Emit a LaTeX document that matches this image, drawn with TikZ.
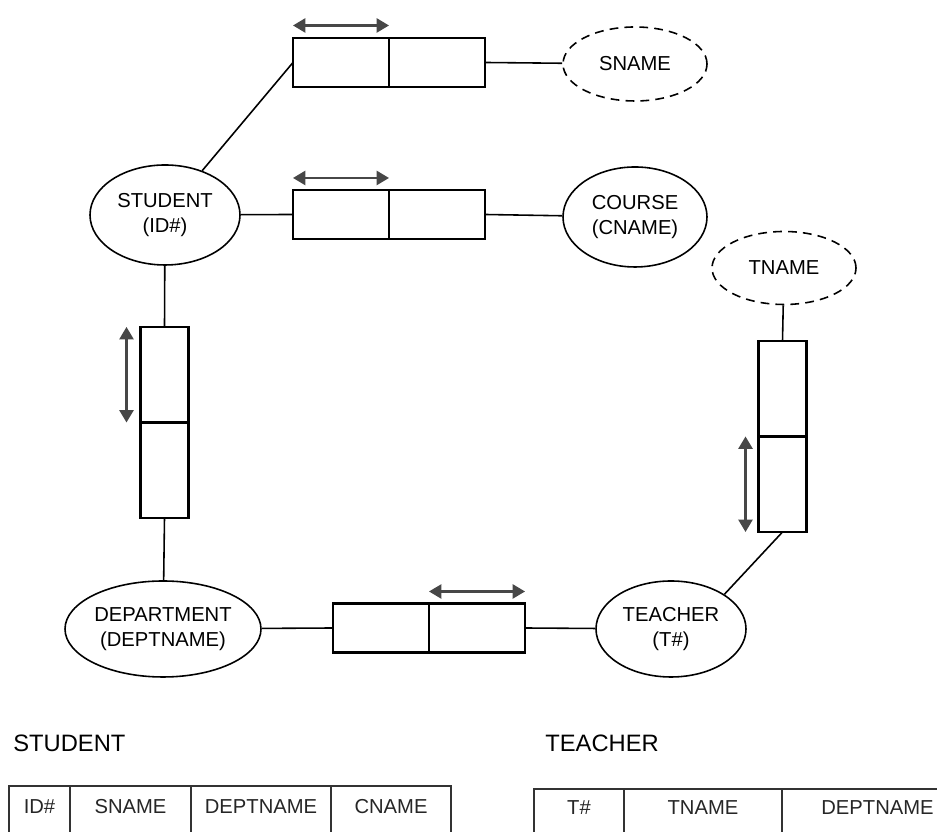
\documentclass[tikz,border=0pt]{standalone}
\usepackage{fontspec}
\setmainfont{Liberation Sans}
\usetikzlibrary{arrows.meta,shapes.geometric}

\begin{document}
\begin{tikzpicture}[
	entidad/.style={ellipse, draw, line width=.9pt, inner sep=0pt, align=center, font=\fontsize{11.5}{14.5}\selectfont},
	atributo/.style={entidad, dash pattern=on 5pt off 3.5pt},
	celda/.style={rectangle, draw, line width=1.3pt, inner sep=0pt, outer sep=0pt, minimum width=1.92cm, minimum height=.98cm},
	celdav/.style={celda, minimum width=.96cm, minimum height=1.91cm},
	flecha/.style={{Triangle[length=7pt,width=8pt]}-{Triangle[length=7pt,width=8pt]}, line width=1.2pt, black!72},
	enlace/.style={line width=.9pt},
	tabla/.style={line width=.6pt, black!80},
	titulo/.style={anchor=base west, inner sep=0pt, font=\fontsize{13.5}{16}\selectfont},
	campo/.style={anchor=base, inner sep=0pt, font=\fontsize{11.5}{14}\selectfont, black!85}
]
\useasboundingbox (0,0) rectangle (18.74,16.64);

%---------------------------------------------------------------------------------------- ENTIDADES
\node[entidad, minimum width=3cm, minimum height=2cm] (student) at (3.30,12.34) {STUDENT\\(ID\#)};
\node[entidad, minimum width=2.88cm, minimum height=2cm] (course) at (12.70,12.30) {COURSE\\(CNAME)};
\node[entidad, minimum width=3.92cm, minimum height=1.92cm] (department) at (3.26,4.06) {DEPARTMENT\\(DEPTNAME)};
\node[entidad, minimum width=3cm, minimum height=1.92cm] (teacher) at (13.42,4.06) {TEACHER\\(T\#)};

\node[atributo, minimum width=2.88cm, minimum height=1.48cm] (sname) at (12.70,15.36) {SNAME};   %--- punteados
\node[atributo, minimum width=2.88cm, minimum height=1.46cm] (tname) at (15.68,11.28) {TNAME};

%---------------------------------------------------------------------------------------- CAJAS
\node[celda] (sn1) at (6.82,15.39) {};
\node[celda, anchor=west] (sn2) at (sn1.east) {};
\node[celda] (cr1) at (6.82,12.35) {};
\node[celda, anchor=west] (cr2) at (cr1.east) {};
\node[celda] (dt1) at (7.62,4.08) {};
\node[celda, anchor=west] (dt2) at (dt1.east) {};

\node[celdav] (sd1) at (3.29,9.145) {};			% ------------------------------------- verticales
\node[celdav, anchor=north] (sd2) at (sd1.south) {};
\node[celdav] (tn1) at (15.65,8.865) {};
\node[celdav, anchor=north] (tn2) at (tn1.south) {};

%---------------------------------------------------------------------------------------- ENLACES
\draw[enlace] (student) -- (sn1.west);
\draw[enlace] (sn2.east) -- (sname);
\draw[enlace] (student) -- (cr1.west);
\draw[enlace] (cr2.east) -- (course);
\draw[enlace] (student) -- (sd1.north);
\draw[enlace] (sd2.south) -- (department);
\draw[enlace] (department) -- (dt1.west);
\draw[enlace] (dt2.east) -- (teacher);
\draw[enlace] (teacher.33) -- (tn2.south);
\draw[enlace] (tname) -- (tn1.north);

%---------------------------------------------------------------------------------------- FLECHAS
\draw[flecha] ([yshift=.25cm]sn1.north west) -- ([yshift=.25cm]sn1.north east);
\draw[flecha] ([yshift=.24cm]cr1.north west) -- ([yshift=.24cm]cr1.north east);
\draw[flecha] ([yshift=.24cm]dt2.north west) -- ([yshift=.24cm]dt2.north east);
\draw[flecha] ([xshift=-.28cm]sd1.north west) -- ([xshift=-.28cm]sd1.south west);
\draw[flecha] ([xshift=-.26cm]tn2.north west) -- ([xshift=-.26cm]tn2.south west);

%---------------------------------------------------------------------------------------- TABLAS
\node[titulo] (tstudent) at (0.26,1.60) {STUDENT};
\draw[tabla] (0.18,0) -- (0.18,0.92) -- (9.02,0.92) -- (9.02,0)
			 (1.40,0) -- (1.40,0.92)  (3.82,0) -- (3.82,0.92)  (6.62,0) -- (6.62,0.92);
\node[campo] (cid) at (0.79,0.36) {ID\#};
\node[campo] (csname) at (2.61,0.36) {SNAME};
\node[campo] (cdept) at (5.22,0.36) {DEPTNAME};
\node[campo] (ccname) at (7.82,0.36) {CNAME};

\node[titulo] (tteacher) at (10.90,1.60) {TEACHER};
\draw[tabla] (10.68,0) -- (10.68,0.86) -- (18.74,0.86)
			 (12.48,0) -- (12.48,0.86)  (15.64,0) -- (15.64,0.86);
\node[campo] (ctid) at (11.58,0.34) {T\#};
\node[campo] (ctname) at (14.06,0.34) {TNAME};
\node[campo] (ctdept) at (17.55,0.34) {DEPTNAME};

\end{tikzpicture}
\end{document}
